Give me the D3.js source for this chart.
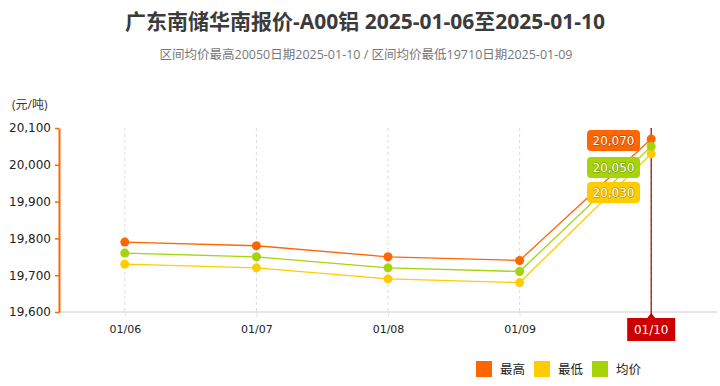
<!DOCTYPE html>
<html>
<head>
<meta charset="utf-8">
<script src="https://cdn.jsdelivr.net/npm/d3@7"></script>
<style>
	body { margin: 0; background: #fff; font-family: "Open Sans", "Noto Sans CJK SC", sans-serif; }
	svg { display: block; }
</style>
</head>
<body>
<svg id="chart" width="720" height="386"></svg>
<script>
// values
const dates = ['01/06', '01/07', '01/08', '01/09', '01/10']
const highs = [19790, 19780, 19750, 19740, 20070]
const lows = [19730, 19720, 19690, 19680, 20030]
const avgs = [19760, 19750, 19720, 19710, 20050]
const yTicks = [19600, 19700, 19800, 19900, 20000, 20100]

const title = '广东南储华南报价-A00铝 2025-01-06至2025-01-10'
const subtitle = '区间均价最高20050日期2025-01-10 / 区间均价最低19710日期2025-01-09'

const series = [
	{ name: '最高', color: '#ff6600', values: highs },
	{ name: '最低', color: '#ffcc00', values: lows },
	{ name: '均价', color: '#a5d40a', values: avgs }
]

;(function() {
	let svg = d3.select('#chart')
	let margin = { top: 128, left: 59, right: 3, bottom: 74 }
	let W = 720, H = 386
	let last = dates[dates.length - 1]

	svg.append('text')
		.attr('x', 365).attr('y', 29)
		.attr('text-anchor', 'middle')
		.attr('font-size', 21).attr('font-weight', 'bold')
		.attr('fill', '#3b3b3b')
		.text(title)

	svg.append('text')
		.attr('x', 366).attr('y', 59)
		.attr('text-anchor', 'middle')
		.attr('font-size', 12.5)
		.attr('fill', '#777')
		.text(subtitle)

	svg.append('text')
		.attr('x', 12).attr('y', 109)
		.attr('font-size', 12).attr('fill', '#333')
		.text('(元/吨)')

	let x = d3.scalePoint()
		.domain(dates)
		.range([margin.left, W - margin.right])
		.padding(0.5)

	let y = d3.scaleLinear()
		.domain([19600, 20100])
		.range([H - margin.bottom, margin.top])

	// vertical dashed grid
	svg.append('g')
		.selectAll('line')
		.data(dates)
		.join('line')
		.attr('x1', d => x(d)).attr('x2', d => x(d))
		.attr('y1', y(20100)).attr('y2', y(19600))
		.attr('stroke', '#dcdcdc')
		.attr('stroke-dasharray', '3,3')

	// x axis (last label is covered by the tooltip box)
	let xAxis = svg.append('g')
		.attr('transform', `translate(0, ${y(19600)})`)
		.call(d3.axisBottom(x).tickSize(5).tickPadding(8)
			.tickFormat(d => d === last ? '' : d))
	xAxis.select('.domain').attr('stroke', '#ccc')
		.attr('d', `M${margin.left},0H${W - margin.right}`)
	xAxis.selectAll('.tick line').attr('stroke', '#e4e4e4')
	xAxis.selectAll('text').attr('font-size', 11).attr('fill', '#222')
		.attr('font-family', 'Verdana, "DejaVu Sans", sans-serif')

	// y axis
	let yAxis = svg.append('g')
		.attr('transform', `translate(${margin.left}, 0)`)
		.call(d3.axisLeft(y).tickValues(yTicks).tickFormat(d3.format(',')).tickSize(4).tickSizeOuter(0).tickPadding(4))
	yAxis.select('.domain').attr('stroke', '#ff6600').attr('stroke-width', 2)
	yAxis.selectAll('.tick line').attr('stroke', '#ff6600').attr('stroke-width', 1.5)
	yAxis.selectAll('text').attr('font-size', 12).attr('fill', '#222')
		.attr('font-family', 'Verdana, "DejaVu Sans", sans-serif')

	// crosshair on last date
	svg.append('line')
		.attr('x1', x(last)).attr('x2', x(last))
		.attr('y1', y(20100)).attr('y2', 318)
		.attr('stroke', '#a00000').attr('stroke-width', 1.2)

	// lines and points
	series.forEach(s => {
		let data = s.values.map((v, i) => [dates[i], v])
		svg.append('path')
			.datum(data)
			.attr('fill', 'none')
			.attr('stroke', s.color)
			.attr('stroke-width', 1.3)
			.attr('d', d3.line().x(d => x(d[0])).y(d => y(d[1])))
		svg.append('g')
			.selectAll('circle')
			.data(data)
			.join('circle')
			.attr('cx', d => x(d[0])).attr('cy', d => y(d[1]))
			.attr('r', 4.5)
			.attr('fill', s.color)
	})

	// value labels for last date
	let labelYs = [140, 167, 192]
	let order = [series[0], series[2], series[1]]
	order.forEach((s, i) => {
		let v = s.values[s.values.length - 1]
		let g = svg.append('g').attr('transform', `translate(587, ${labelYs[i] - 10})`)
		g.append('rect')
			.attr('width', 53).attr('height', 21)
			.attr('rx', 4)
			.attr('fill', s.color)
		g.append('text')
			.attr('x', 26.5).attr('y', 15)
			.attr('text-anchor', 'middle')
			.attr('font-size', 12)
			.attr('font-family', 'Verdana, "DejaVu Sans", sans-serif')
			.attr('fill', '#fff')
			.style('paint-order', 'stroke')
			.attr('stroke', 'rgba(0,0,0,0.25)').attr('stroke-width', 1.5)
			.text(d3.format(',')(v))
	})

	// tooltip box for x value
	let tx = x(last)
	let tip = svg.append('g')
	tip.append('path')
		.attr('d', `M${tx - 24},318H${tx - 4}L${tx},313L${tx + 4},318H${tx + 24}V341H${tx - 24}Z`)
		.attr('fill', '#cc0000')
	tip.append('text')
		.attr('x', tx).attr('y', 334)
		.attr('text-anchor', 'middle')
		.attr('font-size', 12).attr('fill', '#fff')
		.attr('font-family', 'Verdana, "DejaVu Sans", sans-serif')
		.text(last)

	// legend
	let legendX = [476, 534, 592]
	series.forEach((s, i) => {
		let g = svg.append('g').attr('transform', `translate(${legendX[i]}, 361)`)
		g.append('rect').attr('width', 16).attr('height', 16).attr('fill', s.color)
		g.append('text')
			.attr('x', 24).attr('y', 13)
			.attr('font-size', 12.5).attr('fill', '#222')
			.text(s.name)
	})
})();
</script>
</body>
</html>
